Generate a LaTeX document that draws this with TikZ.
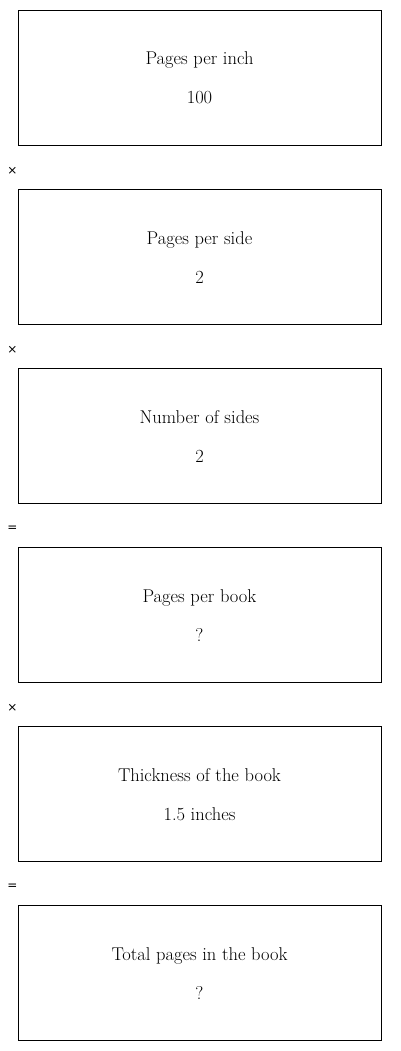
\documentclass[tikz,border=0pt]{standalone}
\usepackage{fontspec}
\newfontfamily\opfont{DejaVu Sans}
\begin{document}
\begin{tikzpicture}[x=1pt,y=-1pt,
  stepbox/.style={draw=black, line width=0.9pt, minimum width=363pt, minimum height=135pt, inner sep=0pt},
  lbl/.style={font=\fontsize{18.5}{20}\selectfont, inner sep=0pt, anchor=base},
  opsign/.style={font=\opfont\fontsize{12}{14}\selectfont, inner sep=0pt}]
\useasboundingbox (0,0) rectangle (400,1051);
\node[stepbox] (b1) at (199.5,77.5) {};
\node[stepbox] (b2) at (199.5,256.5) {};
\node[stepbox] (b3) at (199.5,435.5) {};
\node[stepbox] (b4) at (199.5,614.5) {};
\node[stepbox] (b5) at (199.5,793.5) {};
\node[stepbox] (b6) at (199.5,972.5) {};
\node[lbl] (t1) at ([yshift=12.5pt]b1.center) {Pages per inch};
\node[lbl] (v1) at ([yshift=-26.5pt]b1.center) {100};
\node[lbl] (t2) at ([yshift=12.5pt]b2.center) {Pages per side};
\node[lbl] (v2) at ([yshift=-26.5pt]b2.center) {2};
\node[lbl] (t3) at ([yshift=12.5pt]b3.center) {Number of sides};
\node[lbl] (v3) at ([yshift=-26.5pt]b3.center) {2};
\node[lbl] (t4) at ([yshift=12.5pt]b4.center) {Pages per book};
\node[lbl] (v4) at ([yshift=-26.5pt]b4.center) {?};
\node[lbl] (t5) at ([yshift=12.5pt]b5.center) {Thickness of the book};
\node[lbl] (v5) at ([yshift=-26.5pt]b5.center) {1.5 inches};
\node[lbl] (t6) at ([yshift=12.5pt]b6.center) {Total pages in the book};
\node[lbl] (v6) at ([yshift=-26.5pt]b6.center) {?};
\node[opsign] (o1) at (12.5,170.5) {×};
\node[opsign] (o2) at (12.5,349.5) {×};
\node[opsign] (o3) at (12.5,528.5) {=};
\node[opsign] (o4) at (12.5,707.5) {×};
\node[opsign] (o5) at (12.5,886.5) {=};
\end{tikzpicture}
\end{document}
